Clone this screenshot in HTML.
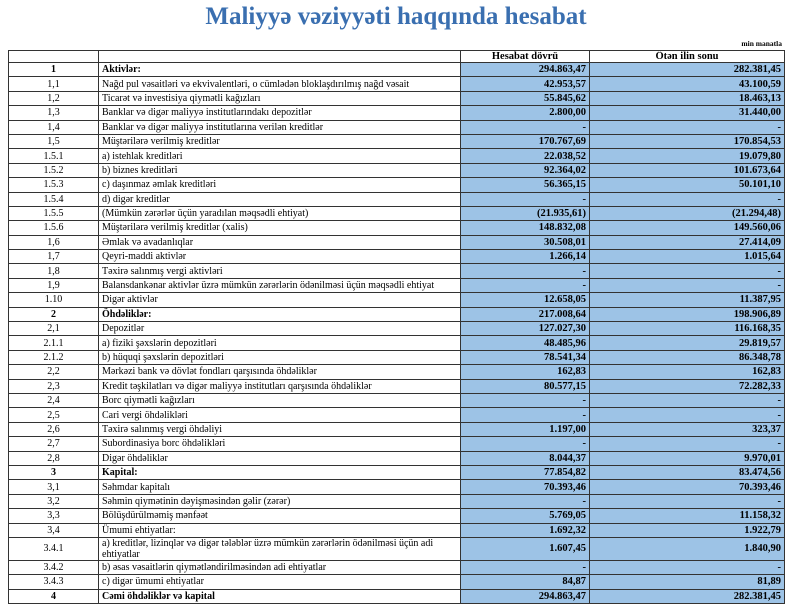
<!DOCTYPE html>
<html><head><meta charset="utf-8"><style>
body{margin:0;width:800px;height:612px;background:#fff;position:relative;overflow:hidden;font-family:"Liberation Serif",serif;}
.t{position:absolute;left:0;top:3px;width:792px;text-align:center;font-weight:bold;font-size:25px;color:#3a6fb0;}
.u{position:absolute;right:18px;top:39px;font-size:7.5px;font-weight:bold;}
table{position:absolute;left:8px;top:50px;border-collapse:collapse;table-layout:fixed;font-size:10px;}
td{border:1px solid #333;height:13.4px;padding:0 3px;line-height:11px;white-space:nowrap;overflow:hidden;}
td:nth-child(1){text-align:center;width:83px;}
td:nth-child(2){width:355px;}
td:nth-child(3){width:122px;}
td:nth-child(4){width:188px;}
td:nth-child(3),td:nth-child(4){background:#9dc3e6;text-align:right;font-weight:bold;font-size:10.5px;}
tr.h td{height:11px;}
tr.h td:nth-child(3),tr.h td:nth-child(4){background:#fff;text-align:center;}
tr.b td{font-weight:bold;}
tr.d td{height:21px;white-space:normal;}
</style></head><body>
<div class="t">Maliyyə vəziyyəti haqqında hesabat</div>
<div class="u">min manatla</div>
<table>
<tr class="h"><td></td><td></td><td>Hesabat dövrü</td><td>Ötən ilin sonu</td></tr>
<tr class="b"><td>1</td><td>Aktivlər:</td><td>294.863,47</td><td>282.381,45</td></tr>
<tr><td>1,1</td><td>Nağd pul vəsaitləri və  ekvivalentləri, o cümlədən bloklaşdırılmış nağd vəsait</td><td>42.953,57</td><td>43.100,59</td></tr>
<tr><td>1,2</td><td>Ticarət və investisiya qiymətli kağızları</td><td>55.845,62</td><td>18.463,13</td></tr>
<tr><td>1,3</td><td>Banklar və digər maliyyə institutlarındakı depozitlər</td><td>2.800,00</td><td>31.440,00</td></tr>
<tr><td>1,4</td><td>Banklar və digər maliyyə institutlarına verilən kreditlər</td><td>-</td><td>-</td></tr>
<tr><td>1,5</td><td>Müştərilərə verilmiş kreditlər</td><td>170.767,69</td><td>170.854,53</td></tr>
<tr><td>1.5.1</td><td>a) istehlak kreditləri</td><td>22.038,52</td><td>19.079,80</td></tr>
<tr><td>1.5.2</td><td>b) biznes kreditləri</td><td>92.364,02</td><td>101.673,64</td></tr>
<tr><td>1.5.3</td><td>c) daşınmaz əmlak kreditləri</td><td>56.365,15</td><td>50.101,10</td></tr>
<tr><td>1.5.4</td><td>d) digər kreditlər</td><td>-</td><td>-</td></tr>
<tr><td>1.5.5</td><td>(Mümkün zərərlər üçün yaradılan məqsədli ehtiyat)</td><td>(21.935,61)</td><td>(21.294,48)</td></tr>
<tr><td>1.5.6</td><td>Müştərilərə verilmiş kreditlər (xalis)</td><td>148.832,08</td><td>149.560,06</td></tr>
<tr><td>1,6</td><td>Əmlak və avadanlıqlar</td><td>30.508,01</td><td>27.414,09</td></tr>
<tr><td>1,7</td><td>Qeyri-maddi aktivlər</td><td>1.266,14</td><td>1.015,64</td></tr>
<tr><td>1,8</td><td>Təxirə salınmış vergi aktivləri</td><td>-</td><td>-</td></tr>
<tr><td>1,9</td><td>Balansdankənar aktivlər üzrə mümkün zərərlərin ödənilməsi üçün məqsədli ehtiyat</td><td>-</td><td>-</td></tr>
<tr><td>1.10</td><td>Digər aktivlər</td><td>12.658,05</td><td>11.387,95</td></tr>
<tr class="b"><td>2</td><td>Öhdəliklər:</td><td>217.008,64</td><td>198.906,89</td></tr>
<tr><td>2,1</td><td>Depozitlər</td><td>127.027,30</td><td>116.168,35</td></tr>
<tr><td>2.1.1</td><td>a) fiziki şəxslərin depozitləri</td><td>48.485,96</td><td>29.819,57</td></tr>
<tr><td>2.1.2</td><td>b) hüquqi şəxslərin depozitləri</td><td>78.541,34</td><td>86.348,78</td></tr>
<tr><td>2,2</td><td>Mərkəzi bank və dövlət fondları qarşısında öhdəliklər</td><td>162,83</td><td>162,83</td></tr>
<tr><td>2,3</td><td>Kredit təşkilatları və digər maliyyə institutları qarşısında öhdəliklər</td><td>80.577,15</td><td>72.282,33</td></tr>
<tr><td>2,4</td><td>Borc qiymətli kağızları</td><td>-</td><td>-</td></tr>
<tr><td>2,5</td><td>Cari vergi öhdəlikləri</td><td>-</td><td>-</td></tr>
<tr><td>2,6</td><td>Təxirə salınmış vergi öhdəliyi</td><td>1.197,00</td><td>323,37</td></tr>
<tr><td>2,7</td><td>Subordinasiya borc öhdəlikləri</td><td>-</td><td>-</td></tr>
<tr><td>2,8</td><td>Digər öhdəliklər</td><td>8.044,37</td><td>9.970,01</td></tr>
<tr class="b"><td>3</td><td>Kapital:</td><td>77.854,82</td><td>83.474,56</td></tr>
<tr><td>3,1</td><td>Səhmdar kapitalı</td><td>70.393,46</td><td>70.393,46</td></tr>
<tr><td>3,2</td><td>Səhmin qiymətinin dəyişməsindən gəlir (zərər)</td><td>-</td><td>-</td></tr>
<tr><td>3,3</td><td>Bölüşdürülməmiş mənfəət</td><td>5.769,05</td><td>11.158,32</td></tr>
<tr><td>3,4</td><td>Ümumi ehtiyatlar:</td><td>1.692,32</td><td>1.922,79</td></tr>
<tr class="d"><td>3.4.1</td><td>a) kreditlər, lizinqlər və digər tələblər üzrə mümkün zərərlərin ödənilməsi üçün adi ehtiyatlar</td><td>1.607,45</td><td>1.840,90</td></tr>
<tr><td>3.4.2</td><td>b) əsas vəsaitlərin qiymətləndirilməsindən adi ehtiyatlar</td><td>-</td><td>-</td></tr>
<tr><td>3.4.3</td><td>c) digər ümumi ehtiyatlar</td><td>84,87</td><td>81,89</td></tr>
<tr class="b"><td>4</td><td>Cəmi öhdəliklər və kapital</td><td>294.863,47</td><td>282.381,45</td></tr>
</table>
</body></html>
